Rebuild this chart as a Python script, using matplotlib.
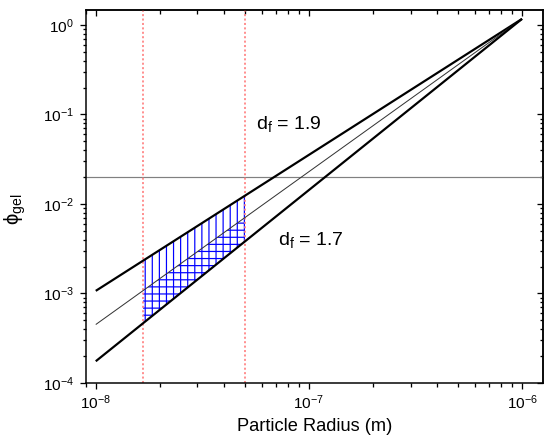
import numpy as np
import matplotlib
matplotlib.use('Agg')
import matplotlib.pyplot as plt
from matplotlib.patches import Rectangle
import matplotlib.transforms as mtransforms

# ---- data ----
radius = [1e-8, 1e-6]
phi_df19 = [1.07e-3, 1.17]
phi_mid = [4.5e-4, 1.17]
phi_df17 = [1.75e-4, 1.17]
phi_ref = 0.02
band = [1.667e-8, 5e-8]
labels = ['d$_f$ = 1.9', 'd$_f$ = 1.7']

DPI = 85
PX = 72.0 / DPI  # points per pixel

plt.rcParams['font.family'] = ['Liberation Sans', 'DejaVu Sans']
plt.rcParams['mathtext.fontset'] = 'custom'
plt.rcParams['mathtext.rm'] = 'Liberation Sans'
plt.rcParams['mathtext.it'] = 'Liberation Sans:italic'
plt.rcParams['mathtext.default'] = 'regular'
plt.rcParams['hatch.linewidth'] = 1.2 * PX

fig = plt.figure(figsize=(550 / DPI, 448 / DPI), dpi=DPI)
ax = fig.add_axes([86 / 550, 1 - 383 / 448, (542.7 - 86) / 550, (383 - 10) / 448])
ax.set_xscale('log')
ax.set_yscale('log')
ax.set_xlim(9e-9, 1.25e-6)
ax.set_ylim(1e-4, 1.47)

# hatched region between the two bounding lines, clipped to the band
clip_tr = mtransforms.blended_transform_factory(ax.transData, ax.transAxes)
h1 = ax.fill_between(radius, phi_df19, phi_df17, facecolor='none', edgecolor='#0000ff',
                     hatch='||', linewidth=0, zorder=1)
h2 = ax.fill_between(radius, phi_mid, phi_df17, facecolor='none', edgecolor='#0000ff',
                     hatch='--', linewidth=0, zorder=1)
for h in (h1, h2):
    rect = Rectangle((band[0], 0), band[1] - band[0], 1, transform=clip_tr)
    h.set_clip_path(rect)

# reference lines
ax.axhline(phi_ref, color='#808080', lw=1.2 * PX, zorder=2)
for xb in band:
    ax.axvline(xb, color='#ff8080', lw=1.7 * PX, ls=(0, (1.2, 1.4)), zorder=2)

ax.plot(radius, phi_df19, color='black', lw=2.2 * PX, solid_capstyle='butt', zorder=3)
ax.plot(radius, phi_mid, color='#333333', lw=1.0 * PX, solid_capstyle='butt', zorder=3)
ax.plot(radius, phi_df17, color='black', lw=2.2 * PX, solid_capstyle='butt', zorder=3)

ax.text(5.64e-8, 0.0689, labels[0], fontsize=16.5, ha='left', va='baseline')
ax.text(7.13e-8, 3.48e-3, labels[1], fontsize=16.5, ha='left', va='baseline')

# axes styling
for sp in ax.spines.values():
    sp.set_linewidth(1.5 * PX)
ax.tick_params(which='both', direction='out', top=False, right=False,
               width=1.3 * PX, labelsize=13)
ax.tick_params(which='major', length=6 * PX)
ax.tick_params(which='minor', length=3.5 * PX)
ax.tick_params(axis='x', which='major', pad=4)
ax.tick_params(axis='y', which='major', pad=5)
ax.yaxis.set_minor_formatter(matplotlib.ticker.NullFormatter())
ax.xaxis.set_minor_formatter(matplotlib.ticker.NullFormatter())

secx = ax.secondary_xaxis('top')
secx.tick_params(which='both', direction='in', labeltop=False, width=1.3 * PX)
secx.tick_params(which='major', length=6 * PX)
secx.tick_params(which='minor', length=3.5 * PX)
secx.spines['top'].set_linewidth(1.5 * PX)
secy = ax.secondary_yaxis('right')
secy.tick_params(which='both', direction='in', labelright=False, width=1.3 * PX)
secy.tick_params(which='major', length=6 * PX)
secy.tick_params(which='minor', length=3.5 * PX)
secy.spines['right'].set_linewidth(1.5 * PX)

ax.set_xlabel('Particle Radius (m)', fontsize=15.5, labelpad=5)
ax.set_ylabel('\u03d5$_{gel}$', fontsize=17)
ax.yaxis.set_label_coords(-0.128, 0.465)

fig.savefig('out.png', dpi=DPI)
